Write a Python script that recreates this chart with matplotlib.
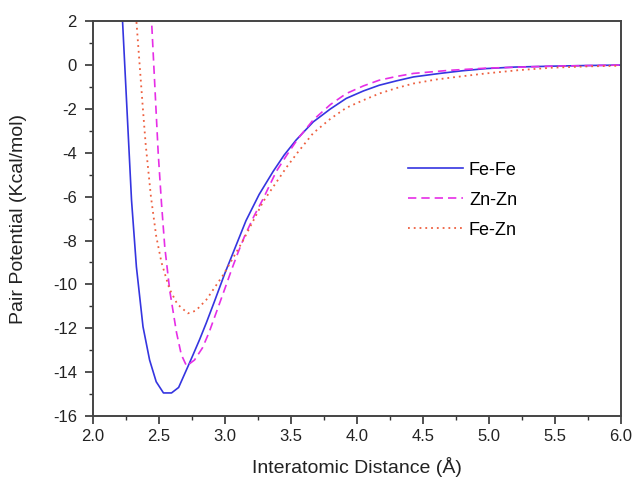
import matplotlib
matplotlib.use("Agg")
import matplotlib.pyplot as plt
from matplotlib.ticker import MultipleLocator, FormatStrFormatter

plt.rcParams['font.family'] = ['Liberation Sans', 'DejaVu Sans']
plt.rcParams['axes.unicode_minus'] = False

# Fe-Fe (blue solid)
fefe_x = [2.19, 2.225, 2.293, 2.33, 2.38, 2.43, 2.48, 2.535, 2.596, 2.65, 2.72, 2.76,
          2.81, 2.86, 2.92, 3.0, 3.08, 3.16, 3.26, 3.366, 3.45, 3.54, 3.67, 3.8,
          3.92, 4.05, 4.17, 4.3, 4.43, 4.63, 4.8, 4.98, 5.2, 5.48, 5.75, 6.0]
fefe_y = [6.0, 2.0, -6.16, -9.2, -11.93, -13.45, -14.44, -14.95, -14.95, -14.7, -13.75, -13.2,
          -12.5, -11.75, -10.8, -9.5, -8.3, -7.1, -5.9, -4.85, -4.1, -3.42, -2.59, -2.0,
          -1.52, -1.18, -0.92, -0.72, -0.54, -0.38, -0.26, -0.16, -0.09, -0.05, -0.02, 0.0]

# Zn-Zn (magenta dashed)
znzn_x = [2.43, 2.445, 2.495, 2.52, 2.545, 2.583, 2.634, 2.67, 2.71, 2.77, 2.83, 2.88,
          2.94, 3.0, 3.05, 3.1, 3.15, 3.22, 3.29, 3.39, 3.47, 3.555, 3.67, 3.8,
          3.92, 4.05, 4.17, 4.3, 4.43, 4.7, 4.98, 5.48, 6.0]
znzn_y = [5.0, 2.0, -4.0, -6.3, -8.3, -10.3, -12.2, -13.2, -13.72, -13.45, -12.9, -12.2,
          -11.2, -10.2, -9.35, -8.55, -7.8, -6.9, -6.1, -4.85, -4.1, -3.35, -2.5, -1.8,
          -1.3, -0.95, -0.69, -0.52, -0.38, -0.24, -0.14, -0.05, 0.0]

# Fe-Zn (orange dotted)
fezn_x = [2.31, 2.33, 2.38, 2.40, 2.44, 2.48, 2.52, 2.58, 2.64, 2.72, 2.78, 2.86,
          2.99, 3.14, 3.29, 3.47, 3.55, 3.67, 3.8, 3.92, 4.05, 4.17, 4.3, 4.43,
          4.6, 4.73, 4.98, 5.23, 5.48, 5.75, 6.0]
fezn_y = [4.0, 2.0, -2.06, -3.6, -6.0, -7.8, -9.0, -10.2, -10.9, -11.32, -11.2, -10.7,
          -9.55, -7.98, -6.23, -4.64, -4.0, -3.1, -2.45, -1.95, -1.6, -1.3, -1.05, -0.84,
          -0.66, -0.56, -0.38, -0.23, -0.12, -0.06, -0.03]

fig = plt.figure(figsize=(6.36, 4.82), dpi=100)
ax = fig.add_axes([0.146, 0.137, 0.830, 0.819])

ax.plot(fefe_x, fefe_y, color='#3535e0', lw=1.2, ls='-', label='Fe-Fe')
ax.plot(znzn_x, znzn_y, color='#e62ee6', lw=1.2, ls=(0, (5, 3)), label='Zn-Zn')
ax.plot(fezn_x, fezn_y, color='#ee6040', lw=1.3, ls=(0, (1, 2.2)), label='Fe-Zn')

ax.set_xlim(2.0, 6.0)
ax.set_ylim(-16, 2)
ax.xaxis.set_major_locator(MultipleLocator(0.5))
ax.xaxis.set_minor_locator(MultipleLocator(0.25))
ax.yaxis.set_major_locator(MultipleLocator(2))
ax.yaxis.set_minor_locator(MultipleLocator(1))
ax.xaxis.set_major_formatter(FormatStrFormatter('%.1f'))
ax.tick_params(which='major', direction='out', length=5.5, width=1.2, labelsize=12,
               colors='#333333', labelcolor='#222222', top=False, right=False)
ax.tick_params(axis='y', which='major', pad=6)
ax.tick_params(axis='x', which='major', pad=4)
ax.tick_params(which='minor', direction='out', length=3, width=1.0, colors='#333333',
               top=False, right=False)
for s in ax.spines.values():
    s.set_linewidth(1.4)
    s.set_color('#444444')

ax.set_xlabel('Interatomic Distance (Å)', fontsize=14, color='#222222')
ax.set_ylabel('Pair Potential (Kcal/mol)', fontsize=14, color='#222222')
ax.xaxis.set_label_coords(0.5, -0.104)
ax.yaxis.set_label_coords(-0.125, 0.5)

leg = ax.legend(loc='center left', bbox_to_anchor=(0.567, 0.547), frameon=False,
                fontsize=13, handlelength=3.0, handletextpad=0.35, labelspacing=0.72)

fig.savefig('out.png', dpi=100)
